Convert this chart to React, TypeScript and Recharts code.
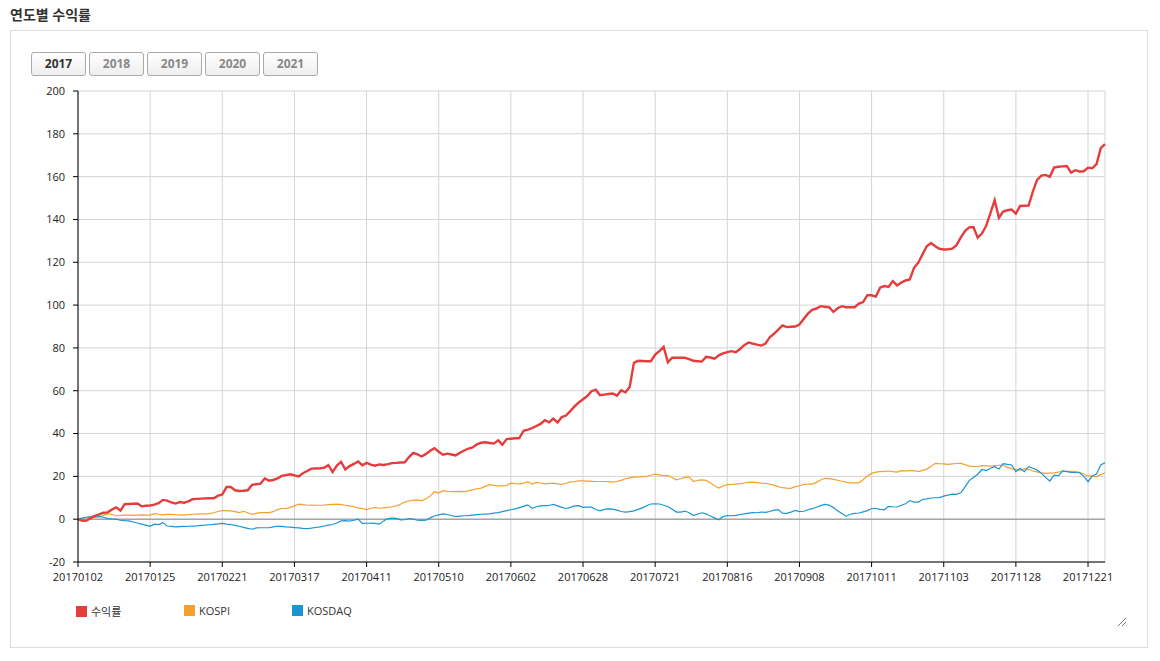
import {
  LineChart,
  Line,
  XAxis,
  YAxis,
  CartesianGrid,
  ReferenceLine,
} from "recharts";

// x tick labels, one every 17 trading days
const tickLabels = [
  "20170102", "20170125", "20170221", "20170317", "20170411",
  "20170510", "20170602", "20170628", "20170721", "20170816",
  "20170908", "20171011", "20171103", "20171128", "20171221",
];
const years = ["2017", "2018", "2019", "2020", "2021"];
const yTicks = [-20, 0, 20, 40, 60, 80, 100, 120, 140, 160, 180, 200];

// 수익률 (strategy return, %)
const retValues = [
  0, -0.8, -0.6, 0.5, 1.5, 2.2, 3, 3.2, 4.5, 5.5,
  4, 7, 7.1, 7.2, 7.3, 6, 6.3, 6.4, 6.8, 7.5,
  9, 8.7, 7.8, 7.3, 8, 7.7, 8.3, 9.3, 9.5, 9.6,
  9.7, 9.8, 9.8, 11, 11.5, 15, 15, 13.5, 13.2, 13.3,
  13.5, 16, 16.3, 16.6, 19, 18, 18.3, 19, 20.2, 20.6,
  21, 20.5, 20, 21.5, 22.5, 23.6, 23.7, 23.8, 24, 25.2,
  22, 25, 26.8, 23.2, 24.8, 25.8, 27, 25.2, 26.3, 25.5,
  25, 25.6, 25.3, 25.7, 26.2, 26.3, 26.5, 26.6, 29, 31,
  30.3, 29.3, 30.5, 32, 33.2, 31.5, 30.1, 30.6, 30.2, 29.8,
  31, 32.1, 33, 33.5, 35, 35.7, 35.9, 35.6, 35.3, 36.8,
  34.8, 37.4, 37.6, 37.8, 37.9, 41.3, 41.8, 42.5, 43.5, 44.5,
  46.2, 45.2, 47, 45.2, 47.7, 48.4, 50.5, 52.7, 54.5, 56,
  57.5, 59.8, 60.5, 57.9, 58.2, 58.5, 58.7, 57.7, 60.2, 59.3,
  61.8, 73, 74, 73.9, 73.8, 73.8, 76.9, 78.5, 80.5, 73.3,
  75.4, 75.4, 75.4, 75.4, 74.8, 74, 73.8, 73.6, 75.8, 75.5,
  75, 76.5, 77.4, 78, 78.5, 78, 79.5, 81.3, 82.5, 82,
  81.5, 81.1, 82, 85, 86.6, 88.5, 90.5, 89.7, 89.9, 90,
  90.9, 93.5, 96, 97.8, 98.4, 99.5, 99.2, 99, 96.8, 98.5,
  99.5, 99, 99, 99, 100.7, 101.4, 104.6, 104.6, 104, 108.1,
  108.9, 108.5, 111.2, 109.2, 110.5, 111.5, 112, 117.4, 119.8, 123.7,
  127.5, 129, 127.5, 126.3, 126, 126.1, 126.4, 128, 131.5, 134.6,
  136.3, 136.5, 131.5, 133.4, 137, 143, 149, 140.8, 143.7, 144.3,
  144.6, 142.7, 146.3, 146.4, 146.5, 153, 158.5, 160.5, 160.8, 159.9,
  164.2, 164.6, 164.8, 165, 161.9, 163, 162.4, 162.5, 164.2, 163.9,
  165.8, 173.3, 175.2,
];

const kospiValues = [
  0, 0.3, 0.8, 0.8, 0.8, 0.9, 1.8, 2.6, 2.2, 1.6,
  1.7, 1.9, 1.9, 1.8, 1.9, 2, 1.9, 1.9, 2.6, 2.3,
  2, 2.2, 2.3, 2.1, 2, 1.9, 2.1, 2.3, 2.4, 2.5,
  2.5, 2.6, 3, 3.6, 4, 4, 3.9, 3.5, 3.1, 3.7,
  3, 2.3, 2.7, 3.1, 3.1, 3.1, 3.5, 4.5, 5, 5,
  5.5, 6.2, 7, 6.8, 6.5, 6.6, 6.5, 6.5, 6.6, 6.8,
  6.9, 7, 6.8, 6.5, 6.2, 5.8, 5.3, 4.9, 4.5, 5,
  5.5, 5.1, 5.3, 5.5, 5.8, 6.2, 7, 8, 8.5, 8.9,
  9, 8.6, 9.5, 10.8, 12.9, 12.2, 13.3, 13, 12.9, 12.9,
  13, 12.9, 13.2, 13.8, 14.2, 14.5, 15.3, 16.1, 15.8, 15.6,
  15.6, 15.7, 16.8, 16.6, 16.5, 16.8, 17.5, 16.4, 17.2, 16.9,
  16.5, 16.7, 16.8, 16.5, 16.2, 16.8, 17.4, 17.6, 17.9, 17.9,
  17.8, 17.7, 17.6, 17.6, 17.6, 17.5, 17.3, 17.6, 18.1, 18.9,
  19.3, 19.6, 19.8, 19.9, 20, 20.5, 21.1, 20.7, 20.3, 20.3,
  19.5, 18.4, 18.9, 19.5, 19.8, 17.6, 18.2, 18.4, 18.1, 17,
  15.5, 14.5, 15.5, 16.1, 16.2, 16.4, 16.6, 16.9, 17.2, 17.3,
  17.1, 16.8, 16.7, 16.3, 15.9, 15.2, 14.7, 14.5, 14.4, 15.2,
  15.6, 16.2, 16.4, 16.4, 17.2, 18.3, 19.1, 18.9, 18.6, 18.2,
  17.7, 17.3, 17, 17, 17, 18.4, 20.2, 21.4, 22, 22.2,
  22.3, 22.5, 22.2, 22, 22.7, 22.6, 22.7, 22.7, 22.2, 22.8,
  23.4, 24.6, 26.1, 25.9, 25.8, 25.6, 25.8, 26, 26.1, 25.5,
  24.8, 24.7, 24.5, 25, 24.9, 24.8, 25, 25.2, 25.3, 24.2,
  23.6, 23.3, 22.8, 23.6, 23.3, 22.5, 22.1, 21.6, 21.4, 21.5,
  21.6, 22, 22.5, 22.4, 22.3, 22.2, 21.9, 21.1, 20.2, 20,
  19.9, 20.8, 21.7,
];

const kosdaqValues = [
  0, 0.5, 0.9, 1.2, 1.6, 1.3, 0.9, 0.3, 0.1, 0,
  -0.5, -0.7, -0.8, -1.3, -1.8, -2.3, -2.8, -3.3, -2.3, -2.5,
  -1.6, -3.2, -3.4, -3.6, -3.5, -3.4, -3.3, -3.2, -3.1, -2.9,
  -2.8, -2.6, -2.4, -2.2, -2, -2.3, -2.5, -2.9, -3.3, -3.8,
  -4.3, -4.7, -4.1, -4, -4, -4, -3.6, -3.3, -3.4, -3.6,
  -3.7, -3.9, -4.1, -4.3, -4.4, -4.2, -3.9, -3.6, -3.2, -2.8,
  -2.5, -1.8, -0.8, -0.7, -0.9, -0.5, 0, -2, -1.9, -1.8,
  -2, -2.3, -0.8, 0.3, 0.5, 0.4, -0.3, -0.2, 0.3, 0,
  -0.5, -0.6, -0.5, 0.6, 1.5, 2, 2.5, 2.2, 1.7, 1.2,
  1.4, 1.6, 1.7, 1.9, 2.1, 2.3, 2.4, 2.5, 2.8, 3.1,
  3.5, 4, 4.4, 4.8, 5.4, 6, 6.7, 5.1, 5.8, 6.2,
  6.3, 6.4, 6.9, 6.2, 5.5, 5, 5.5, 6.2, 6.3, 5.5,
  5.6, 5.6, 4.5, 3.9, 4.6, 4.8, 4.7, 4.2, 3.6, 3.3,
  3.5, 3.9, 4.6, 5.3, 6.3, 7.1, 7.2, 7.1, 6.5, 5.9,
  4.6, 3.3, 3.3, 3.8, 3, 1.7, 2.4, 3, 2.5, 1.5,
  0.6, -0.3, 1.2, 1.7, 1.6, 1.8, 2.2, 2.5, 2.8, 3.1,
  3, 3.3, 3.2, 3.6, 4.2, 4.5, 2.8, 2.7, 3.3, 4.1,
  3.5, 3.7, 4.4, 4.9, 5.6, 6.3, 6.9, 6.6, 5.4, 3.9,
  2.6, 1.4, 2.3, 2.7, 2.9, 3.4, 4, 5, 5, 4.6,
  4.4, 6, 5.8, 5.7, 6.5, 7.2, 8.7, 8, 8, 9.2,
  9.5, 9.9, 10, 10.1, 10.8, 11.2, 11.7, 11.6, 12.3, 15,
  18, 19.5, 21, 23.2, 22.7, 23.8, 24.5, 23.4, 25.9, 25.6,
  25.3, 22.2, 23.8, 22.2, 24.5, 23.8, 23, 21.5, 19.5, 17.8,
  20.6, 20.2, 22.5, 22.2, 21.9, 21.8, 21.7, 20, 17.5, 20.2,
  21.1, 25.3, 26.4,
];

const seriesNames = ["수익률", "KOSPI", "KOSDAQ"];
const seriesColors = ["#e53c3c", "#f5a02e", "#1a95d3"];

const data = retValues.map((v, i) => ({
  i,
  ret: v,
  kospi: kospiValues[i],
  kosdaq: kosdaqValues[i],
}));
const xTicks = tickLabels.map((_, k) => k * 17);

const FONT = '"Open Sans", "Noto Sans CJK KR", sans-serif';

export default function App() {
  return (
    <div
      style={{
        position: "absolute",
        left: 0,
        top: 0,
        width: 1160,
        height: 661,
        background: "#fff",
        fontFamily: FONT,
      }}
    >
      <div
        style={{
          position: "absolute",
          left: 10,
          top: 4,
          fontSize: 14,
          fontWeight: 700,
          color: "#333",
        }}
      >
        연도별 수익률
      </div>
      <div
        style={{
          position: "absolute",
          left: 10,
          top: 30,
          width: 1136,
          height: 616,
          border: "1px solid #ddd",
        }}
      />
      {years.map((y, k) => (
        <div
          key={y}
          style={{
            position: "absolute",
            left: 31 + k * 58,
            top: 52,
            width: 53,
            height: 22,
            border: "1px solid #aaa",
            borderRadius: 3,
            background: "linear-gradient(#fff, #eee)",
            fontSize: 12,
            fontWeight: 700,
            color: k === 0 ? "#333" : "#888",
            textAlign: "center",
            lineHeight: "22px",
          }}
        >
          {y}
        </div>
      ))}
      <div style={{ position: "absolute", left: 10, top: 80 }}>
        <LineChart
          width={1137}
          height={517}
          data={data}
          margin={{ top: 11, right: 42, bottom: 5, left: 8 }}
        >
          <CartesianGrid stroke="#d4d4d4" />
          <XAxis
            dataKey="i"
            type="number"
            domain={[0, 242]}
            ticks={xTicks}
            tickFormatter={(v: number) => tickLabels[Math.round(v / 17)] ?? ""}
            height={30}
            stroke="#000"
            tick={{ fill: "#222", fontSize: 11 }}
            tickSize={5}
            tickMargin={6}
          />
          <YAxis
            domain={[-20, 200]}
            ticks={yTicks}
            width={60}
            stroke="#000"
            tick={{ fill: "#222", fontSize: 11 }}
            tickSize={5}
            tickMargin={8}
            interval={0}
          />
          <ReferenceLine y={0} stroke="#888" />
          <Line
            dataKey="kospi"
            stroke={seriesColors[1]}
            strokeWidth={1.2}
            dot={false}
            isAnimationActive={false}
          />
          <Line
            dataKey="kosdaq"
            stroke={seriesColors[2]}
            strokeWidth={1.2}
            dot={false}
            isAnimationActive={false}
          />
          <Line
            dataKey="ret"
            stroke={seriesColors[0]}
            strokeWidth={2.4}
            dot={false}
            isAnimationActive={false}
          />
        </LineChart>
      </div>
      {seriesNames.map((name, k) => (
        <div
          key={name}
          style={{
            position: "absolute",
            left: 76 + k * 108,
            top: 603,
            fontSize: 11,
            color: "#333",
            display: "flex",
            alignItems: "center",
          }}
        >
          <span
            style={{
              display: "inline-block",
              width: 11,
              height: 11,
              background: seriesColors[k],
              marginRight: 4,
            }}
          />
          {name}
        </div>
      ))}
      <svg
        style={{ position: "absolute", left: 1116, top: 616 }}
        width={12}
        height={12}
      >
        <line x1={2} y1={10} x2={10} y2={2} stroke="#777" />
        <line x1={6} y1={10} x2={10} y2={6} stroke="#777" />
      </svg>
    </div>
  );
}
